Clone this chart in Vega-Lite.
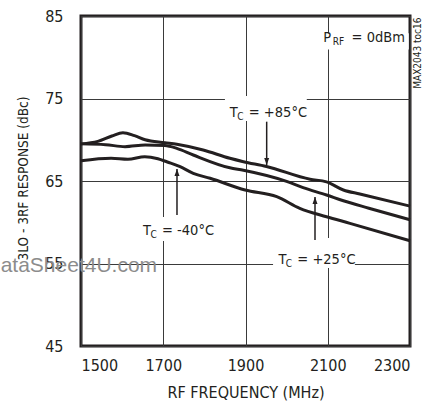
{
  "$schema": "https://vega.github.io/schema/vega-lite/v6.json",
  "width": 329,
  "height": 330,
  "autosize": "none",
  "padding": {"left": 81, "top": 16, "right": 17, "bottom": 57},
  "background": "white",
  "config": {
    "view": {"stroke": "#231f20", "strokeWidth": 3},
    "font": "DejaVu Sans Condensed, Roboto, sans-serif",
    "axis": {
      "domain": false, "ticks": false, "grid": true,
      "gridColor": "#3a3a3a", "gridWidth": 1,
      "labelFont": "DejaVu Sans Condensed, Roboto, sans-serif", "labelFontSize": 16, "labelColor": "#231f20",
      "titleFont": "DejaVu Sans Condensed, Roboto, sans-serif", "titleFontSize": 16, "titleFontWeight": "normal", "titleColor": "#231f20"
    }
  },
  "datasets": {
    "curves": [
      {"f": 1500, "r": 69.5, "s": "+85"}, {"f": 1541, "r": 69.8, "s": "+85"}, {"f": 1575, "r": 70.45, "s": "+85"},
      {"f": 1602, "r": 70.85, "s": "+85"}, {"f": 1630, "r": 70.5, "s": "+85"}, {"f": 1656, "r": 70.0, "s": "+85"},
      {"f": 1704, "r": 69.65, "s": "+85"}, {"f": 1733, "r": 69.45, "s": "+85"}, {"f": 1797, "r": 68.76, "s": "+85"},
      {"f": 1862, "r": 67.75, "s": "+85"}, {"f": 1895, "r": 67.34, "s": "+85"}, {"f": 1951, "r": 66.76, "s": "+85"},
      {"f": 2057, "r": 65.21, "s": "+85"}, {"f": 2097, "r": 64.9, "s": "+85"}, {"f": 2138, "r": 63.91, "s": "+85"},
      {"f": 2178, "r": 63.42, "s": "+85"}, {"f": 2300, "r": 61.95, "s": "+85"},
      {"f": 1500, "r": 69.5, "s": "+25"}, {"f": 1560, "r": 69.4, "s": "+25"}, {"f": 1607, "r": 69.16, "s": "+25"},
      {"f": 1656, "r": 69.36, "s": "+25"}, {"f": 1704, "r": 69.3, "s": "+25"}, {"f": 1733, "r": 68.96, "s": "+25"},
      {"f": 1773, "r": 68.15, "s": "+25"}, {"f": 1862, "r": 66.6, "s": "+25"}, {"f": 1895, "r": 66.3, "s": "+25"},
      {"f": 2000, "r": 64.95, "s": "+25"}, {"f": 2040, "r": 64.2, "s": "+25"}, {"f": 2097, "r": 63.3, "s": "+25"},
      {"f": 2138, "r": 62.6, "s": "+25"}, {"f": 2200, "r": 61.7, "s": "+25"}, {"f": 2300, "r": 60.3, "s": "+25"},
      {"f": 1500, "r": 67.45, "s": "-40"}, {"f": 1573, "r": 67.75, "s": "-40"}, {"f": 1614, "r": 67.63, "s": "-40"},
      {"f": 1655, "r": 67.95, "s": "-40"}, {"f": 1687, "r": 67.7, "s": "-40"}, {"f": 1710, "r": 67.3, "s": "-40"},
      {"f": 1741, "r": 66.73, "s": "-40"}, {"f": 1773, "r": 65.93, "s": "-40"}, {"f": 1814, "r": 65.33, "s": "-40"},
      {"f": 1899, "r": 63.91, "s": "-40"}, {"f": 1976, "r": 63.1, "s": "-40"}, {"f": 2032, "r": 61.69, "s": "-40"},
      {"f": 2097, "r": 60.67, "s": "-40"}, {"f": 2154, "r": 59.87, "s": "-40"}, {"f": 2300, "r": 57.75, "s": "-40"}
    ],
    "boxes": [
      {"x1": 1850, "x2": 2049, "y1": 75.3, "y2": 72.27},
      {"x1": 2076, "x2": 2297, "y1": 82.9, "y2": 80.94},
      {"x1": 1643, "x2": 1838, "y1": 60.64, "y2": 57.73},
      {"x1": 1967, "x2": 2166, "y1": 58.09, "y2": 54.45}
    ],
    "arrows": [
      {"x": 1951.5, "base": 72.19, "tip": 66.94, "dir": "down"},
      {"x": 1733.4, "base": 60.88, "tip": 66.45, "dir": "up"},
      {"x": 2069, "base": 57.85, "tip": 63.05, "dir": "up"}
    ],
    "labels": [
      {"x": 1862, "y": 72.79, "t": "T", "k": "main"},
      {"x": 1880, "y": 72.45, "t": "C", "k": "sub"},
      {"x": 1908, "y": 72.79, "t": "= +85°C", "k": "main"},
      {"x": 2089, "y": 81.88, "t": "P", "k": "main"},
      {"x": 2112, "y": 81.48, "t": "RF", "k": "sub"},
      {"x": 2158, "y": 81.88, "t": "= 0dBm", "k": "main"},
      {"x": 1651, "y": 58.45, "t": "T", "k": "main"},
      {"x": 1669, "y": 58.15, "t": "C", "k": "sub"},
      {"x": 1697, "y": 58.45, "t": "= -40°C", "k": "main"},
      {"x": 1980, "y": 54.9, "t": "T", "k": "main"},
      {"x": 1998, "y": 54.61, "t": "C", "k": "sub"},
      {"x": 2026, "y": 54.9, "t": "= +25°C", "k": "main"}
    ]
  },
  "layer": [
    {
      "data": {"name": "boxes"},
      "mark": {"type": "rect", "fill": "white", "stroke": null},
      "encoding": {
        "x": {"field": "x1", "type": "quantitative", "scale": {"domain": [1500, 2300], "nice": false, "zero": false},
              "axis": {"values": [1500, 1700, 1900, 2100, 2300], "format": "d", "title": "RF FREQUENCY (MHz)", "labelPadding": 11, "titleY": 51, "titleBaseline": "alphabetic"}},
        "x2": {"field": "x2"},
        "y": {"field": "y1", "type": "quantitative", "scale": {"domain": [45, 85], "nice": false, "zero": false},
              "axis": {"values": [45, 55, 65, 75, 85], "title": "3LO - 3RF RESPONSE (dBc)", "labelPadding": 18, "titleX": -58, "titleY": 162, "titleAngle": 270, "titleAlign": "center", "titleBaseline": "middle", "titleFontSize": 13.5}},
        "y2": {"field": "y2"}
      }
    },
    {
      "data": {"name": "curves"},
      "mark": {"type": "line", "color": "#231f20", "strokeWidth": 3, "interpolate": "monotone"},
      "encoding": {
        "x": {"field": "f", "type": "quantitative"},
        "y": {"field": "r", "type": "quantitative"},
        "detail": {"field": "s"}
      }
    },
    {
      "data": {"name": "arrows"},
      "mark": {"type": "rule", "color": "#231f20", "strokeWidth": 1.5},
      "encoding": {
        "x": {"field": "x", "type": "quantitative"},
        "y": {"field": "base", "type": "quantitative"},
        "y2": {"field": "tip"}
      }
    },
    {
      "data": {"name": "arrows"},
      "transform": [{"filter": "datum.dir == 'down'"}],
      "mark": {"type": "point", "shape": "M-0.5,-1.4L0.5,-1.4L0,0Z", "size": 100, "filled": true, "color": "#231f20", "opacity": 1},
      "encoding": {
        "x": {"field": "x", "type": "quantitative"},
        "y": {"field": "tip", "type": "quantitative"}
      }
    },
    {
      "data": {"name": "arrows"},
      "transform": [{"filter": "datum.dir == 'up'"}],
      "mark": {"type": "point", "shape": "M-0.5,1.4L0.5,1.4L0,0Z", "size": 100, "filled": true, "color": "#231f20", "opacity": 1},
      "encoding": {
        "x": {"field": "x", "type": "quantitative"},
        "y": {"field": "tip", "type": "quantitative"}
      }
    },
    {
      "data": {"name": "labels"},
      "transform": [{"filter": "datum.k == 'main'"}],
      "mark": {"type": "text", "align": "left", "baseline": "alphabetic", "fontSize": 14.5, "color": "#231f20"},
      "encoding": {
        "x": {"field": "x", "type": "quantitative"},
        "y": {"field": "y", "type": "quantitative"},
        "text": {"field": "t"}
      }
    },
    {
      "data": {"name": "labels"},
      "transform": [{"filter": "datum.k == 'sub'"}],
      "mark": {"type": "text", "align": "left", "baseline": "alphabetic", "fontSize": 10, "color": "#231f20"},
      "encoding": {
        "x": {"field": "x", "type": "quantitative"},
        "y": {"field": "y", "type": "quantitative"},
        "text": {"field": "t"}
      }
    },
    {
      "data": {"values": [{"x": 1685, "y": 54.0, "t": "ataSheet4U.com"}]},
      "mark": {"type": "text", "align": "right", "baseline": "alphabetic", "fontSize": 21, "font": "Liberation Sans", "color": "#8c8c8c", "clip": false},
      "encoding": {
        "x": {"field": "x", "type": "quantitative"},
        "y": {"field": "y", "type": "quantitative"},
        "text": {"field": "t"}
      }
    },
    {
      "data": {"values": [{"x": 2319.5, "y": 80.5, "t": "MAX2043 toc16"}]},
      "mark": {"type": "text", "align": "center", "baseline": "middle", "angle": 270, "fontSize": 10, "color": "#231f20", "clip": false},
      "encoding": {
        "x": {"field": "x", "type": "quantitative"},
        "y": {"field": "y", "type": "quantitative"},
        "text": {"field": "t"}
      }
    }
  ]
}
